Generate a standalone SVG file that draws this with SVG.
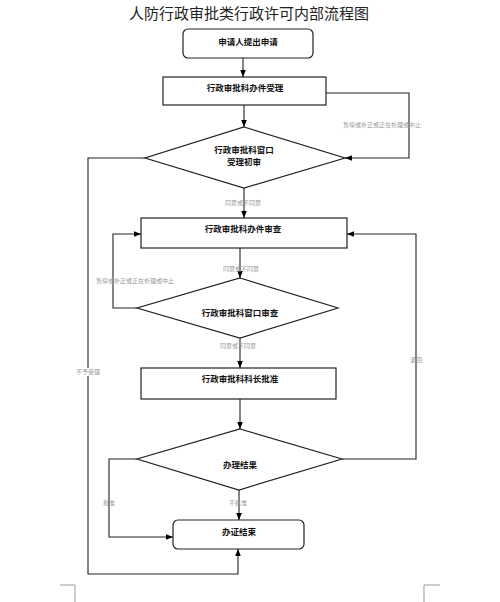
<svg xmlns="http://www.w3.org/2000/svg" width="500" height="602" viewBox="0 0 500 602">
<defs>
<marker id="ah" viewBox="0 0 10 10" refX="10" refY="5" markerWidth="7" markerHeight="7" markerUnits="userSpaceOnUse" orient="auto">
<path d="M0,1 L10,5 L0,9 z" fill="#000"/>
</marker>
<style>
.box{fill:#fff;stroke:#222;stroke-width:1.2}
.t{font-family:"Noto Sans CJK SC","Liberation Sans",sans-serif;font-size:8.5px;fill:#111;text-anchor:middle;font-weight:bold}
.lb{font-family:"Noto Sans CJK SC","Liberation Serif",serif;font-size:6px;fill:#999;text-anchor:middle}
.c{fill:none;stroke:#222;stroke-width:1.1}
.a{marker-end:url(#ah)}
</style>
</defs>
<rect width="500" height="602" fill="#fff"/>
<text x="249" y="19" font-family="Noto Sans CJK SC,sans-serif" font-size="15" text-anchor="middle" fill="#222">人防行政审批类行政许可内部流程图</text>
<g id="n1"><rect class="box" x="183" y="29" width="130" height="29" rx="5"/><text class="t" x="248" y="45">申请人提出申请</text></g>
<g id="n2"><rect class="box" x="163" y="77" width="163" height="28"/><text class="t" x="245" y="91">行政审批科办件受理</text></g>
<g id="n3"><polygon class="box" points="244,127 345,158 244,188 145,158"/><text class="t" x="244" y="153">行政审批科窗口</text><text class="t" x="244" y="165">受理初审</text></g>
<g id="n4"><rect class="box" x="141" y="218" width="206" height="30"/><text class="t" x="243" y="232">行政审批科办件审查</text></g>
<g id="n5"><polygon class="box" points="240,278 338,308 240,338 137,308"/><text class="t" x="240" y="316">行政审批科窗口审查</text></g>
<g id="n6"><rect class="box" x="141" y="368" width="195" height="31"/><text class="t" x="240" y="382">行政审批科科长批准</text></g>
<g id="n7"><polygon class="box" points="240,429 342,459 239,490 137,459"/><text class="t" x="240" y="468">办理结果</text></g>
<g id="n8"><rect class="box" x="173" y="520" width="131" height="29" rx="5"/><text class="t" x="239" y="535">办证结束</text></g>
<g id="connectors">
<path class="c a" d="M243,58 V77"/>
<path class="c a" d="M244,105 V127"/>
<path class="c a" d="M326,93 H409 V158 H345"/>
<path class="c a" d="M145,158 H88 V574 H238 V549"/>
<path class="c a" d="M244,188 V218"/>
<path class="c a" d="M240,248 V278"/>
<path class="c a" d="M137,308 H113 V234 H141"/>
<path class="c a" d="M240,338 V368"/>
<path class="c a" d="M240,399 V429"/>
<path class="c a" d="M342,459 H416 V234 H347"/>
<path class="c a" d="M137,459 H109 V537 H173"/>
<path class="c a" d="M239,490 V520"/>
<text class="lb" x="382" y="127">暂停或补正或正在处理或中止</text>
<text class="lb" x="243" y="205">同意或不同意</text>
<text class="lb" x="241" y="271">同意或不同意</text>
<text class="lb" x="135" y="283">暂停或补正或正在处理或中止</text>
<text class="lb" x="238" y="348">同意或不同意</text>
<rect x="78" y="368" width="20" height="8" fill="#fff"/>
<text class="lb" x="88" y="374">不予受理</text>
<text class="lb" x="416" y="362">退回</text>
<text class="lb" x="109" y="505">批准</text>
<text class="lb" x="238" y="505">不批准</text>
</g>
<path d="M60,585 H75 V602 M440,585 H424 V602" fill="none" stroke="#999" stroke-width="1"/>
</svg>
